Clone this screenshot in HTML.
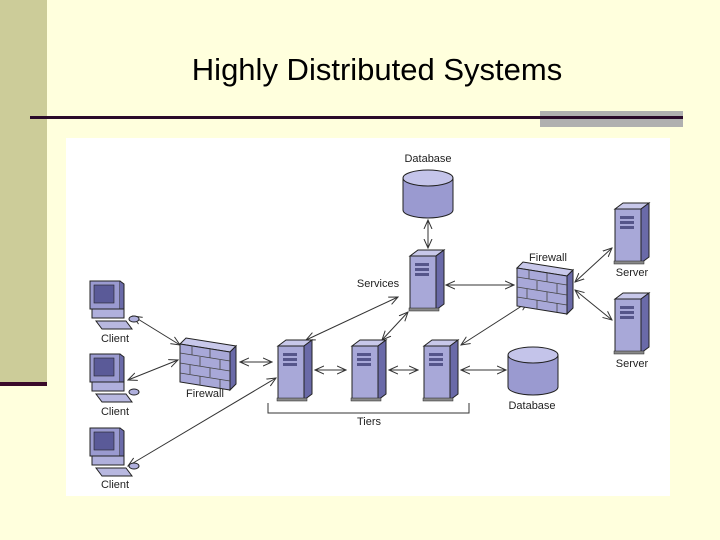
<!DOCTYPE html>
<html><head><style>
html,body{margin:0;padding:0;width:720px;height:540px;overflow:hidden;background:#ffffdd}
svg{display:block}
text{font-family:"Liberation Sans",Arial,sans-serif}
</style></head><body>
<svg width="720" height="540" viewBox="0 0 720 540" xmlns="http://www.w3.org/2000/svg">
<defs>
<marker id="a" markerWidth="10" markerHeight="10" refX="9" refY="5" orient="auto-start-reverse" markerUnits="userSpaceOnUse">
<path d="M0,1 L9,5 L0,9" fill="none" stroke="#333" stroke-width="1"/></marker>
<g id="srv">
<path d="M0,6 L8,0 L34,0 L26,6 Z" fill="#c8c8ea" stroke="#222" stroke-width="1"/>
<path d="M26,6 L34,0 L34,54 L26,60 Z" fill="#6a6aa8" stroke="#222" stroke-width="1"/>
<rect x="0" y="6" width="26" height="54" fill="#a8a8d8" stroke="#222" stroke-width="1"/>
<rect x="5" y="13" width="14" height="3" fill="#55558a"/>
<rect x="5" y="18" width="14" height="3" fill="#55558a"/>
<rect x="5" y="23" width="14" height="3" fill="#55558a"/>
<rect x="-1" y="58" width="30" height="3" fill="#888" stroke="#222" stroke-width=".5"/>
</g>
<g id="db">
<path d="M0,8 L0,40 A25,8 0 0 0 50,40 L50,8" fill="#9a9ad0" stroke="#222"/>
<ellipse cx="25" cy="8" rx="25" ry="8" fill="#c4c4ea" stroke="#222"/>
</g>
<g id="fw">
<path d="M0,6 L6,0 L56,8 L50,14 Z" fill="#c8c8ea" stroke="#222"/>
<path d="M50,14 L56,8 L56,46 L50,52 Z" fill="#6a6aa8" stroke="#222"/>
<path d="M0,6 L50,14 L50,52 L0,44 Z" fill="#a8a8d8" stroke="#222"/>
<path d="M0,15 L50,23 M0,25 L50,33 M0,35 L50,43" stroke="#444" stroke-width=".8"/>
<path d="M12,8 L12,17 M30,11 L30,20 M20,19 L20,28 M40,22 L40,31 M10,27 L10,36 M30,30 L30,39 M20,38 L20,47 M40,41 L40,50" stroke="#444" stroke-width=".8"/>
</g>
<g id="cl">
<rect x="0" y="0" width="30" height="28" fill="#9a9ad0" stroke="#222"/>
<rect x="4" y="4" width="20" height="18" fill="#5a5a98" stroke="#222" stroke-width=".6"/>
<path d="M30,0 L34,3 L34,30 L30,28" fill="#6a6aa8" stroke="#222"/>
<rect x="2" y="28" width="32" height="9" fill="#b0b0dd" stroke="#222"/>
<path d="M6,40 L36,40 L42,48 L12,48 Z" fill="#b8b8e0" stroke="#222"/>
<ellipse cx="44" cy="38" rx="5" ry="3" fill="#b0b0dd" stroke="#222"/>
</g>
</defs>
<rect x="0" y="0" width="47" height="383" fill="#cccc99"/>
<rect x="0" y="382" width="47" height="4" fill="#3a0a2a"/>
<text x="377" y="80" font-size="31" text-anchor="middle" fill="#000">Highly Distributed Systems</text>
<rect x="540" y="111" width="143" height="16" fill="#b0b0b0"/>
<rect x="30" y="116" width="653" height="3" fill="#2a0a2a"/>
<rect x="66" y="138" width="604" height="358" fill="#fff"/>

<g stroke="#333" stroke-width="1" fill="none" marker-start="url(#a)" marker-end="url(#a)">
<line x1="428" y1="220" x2="428" y2="248"/>
<line x1="133" y1="316" x2="180" y2="345"/>
<line x1="128" y1="380" x2="178" y2="360"/>
<line x1="240" y1="362" x2="272" y2="362"/>
<line x1="128" y1="466" x2="276" y2="378"/>
<line x1="306" y1="340" x2="398" y2="297"/>
<line x1="382" y1="340" x2="408" y2="312"/>
<line x1="315" y1="370" x2="346" y2="370"/>
<line x1="389" y1="370" x2="418" y2="370"/>
<line x1="461" y1="370" x2="506" y2="370"/>
<line x1="446" y1="285" x2="514" y2="285"/>
<line x1="461" y1="345" x2="528" y2="302"/>
<line x1="575" y1="282" x2="612" y2="248"/>
<line x1="575" y1="290" x2="612" y2="320"/>
</g>
<path d="M268,403 L268,413 L469,413 L469,403" fill="none" stroke="#333"/>

<use href="#db" x="403" y="170"/>
<use href="#db" x="508" y="347"/>
<use href="#srv" x="410" y="250"/>
<use href="#srv" x="278" y="340"/>
<use href="#srv" x="352" y="340"/>
<use href="#srv" x="424" y="340"/>
<use href="#srv" x="615" y="203"/>
<use href="#srv" x="615" y="293"/>
<use href="#fw" x="180" y="338"/>
<use href="#fw" x="517" y="262"/>
<use href="#cl" x="90" y="281"/>
<use href="#cl" x="90" y="354"/>
<use href="#cl" x="90" y="428"/>

<g font-size="11" fill="#222" text-anchor="middle">
<text x="428" y="162">Database</text>
<text x="378" y="287">Services</text>
<text x="548" y="261">Firewall</text>
<text x="632" y="276">Server</text>
<text x="632" y="367">Server</text>
<text x="205" y="397">Firewall</text>
<text x="532" y="409">Database</text>
<text x="369" y="425">Tiers</text>
<text x="115" y="342">Client</text>
<text x="115" y="415">Client</text>
<text x="115" y="488">Client</text>
</g>
</svg>
</body></html>
